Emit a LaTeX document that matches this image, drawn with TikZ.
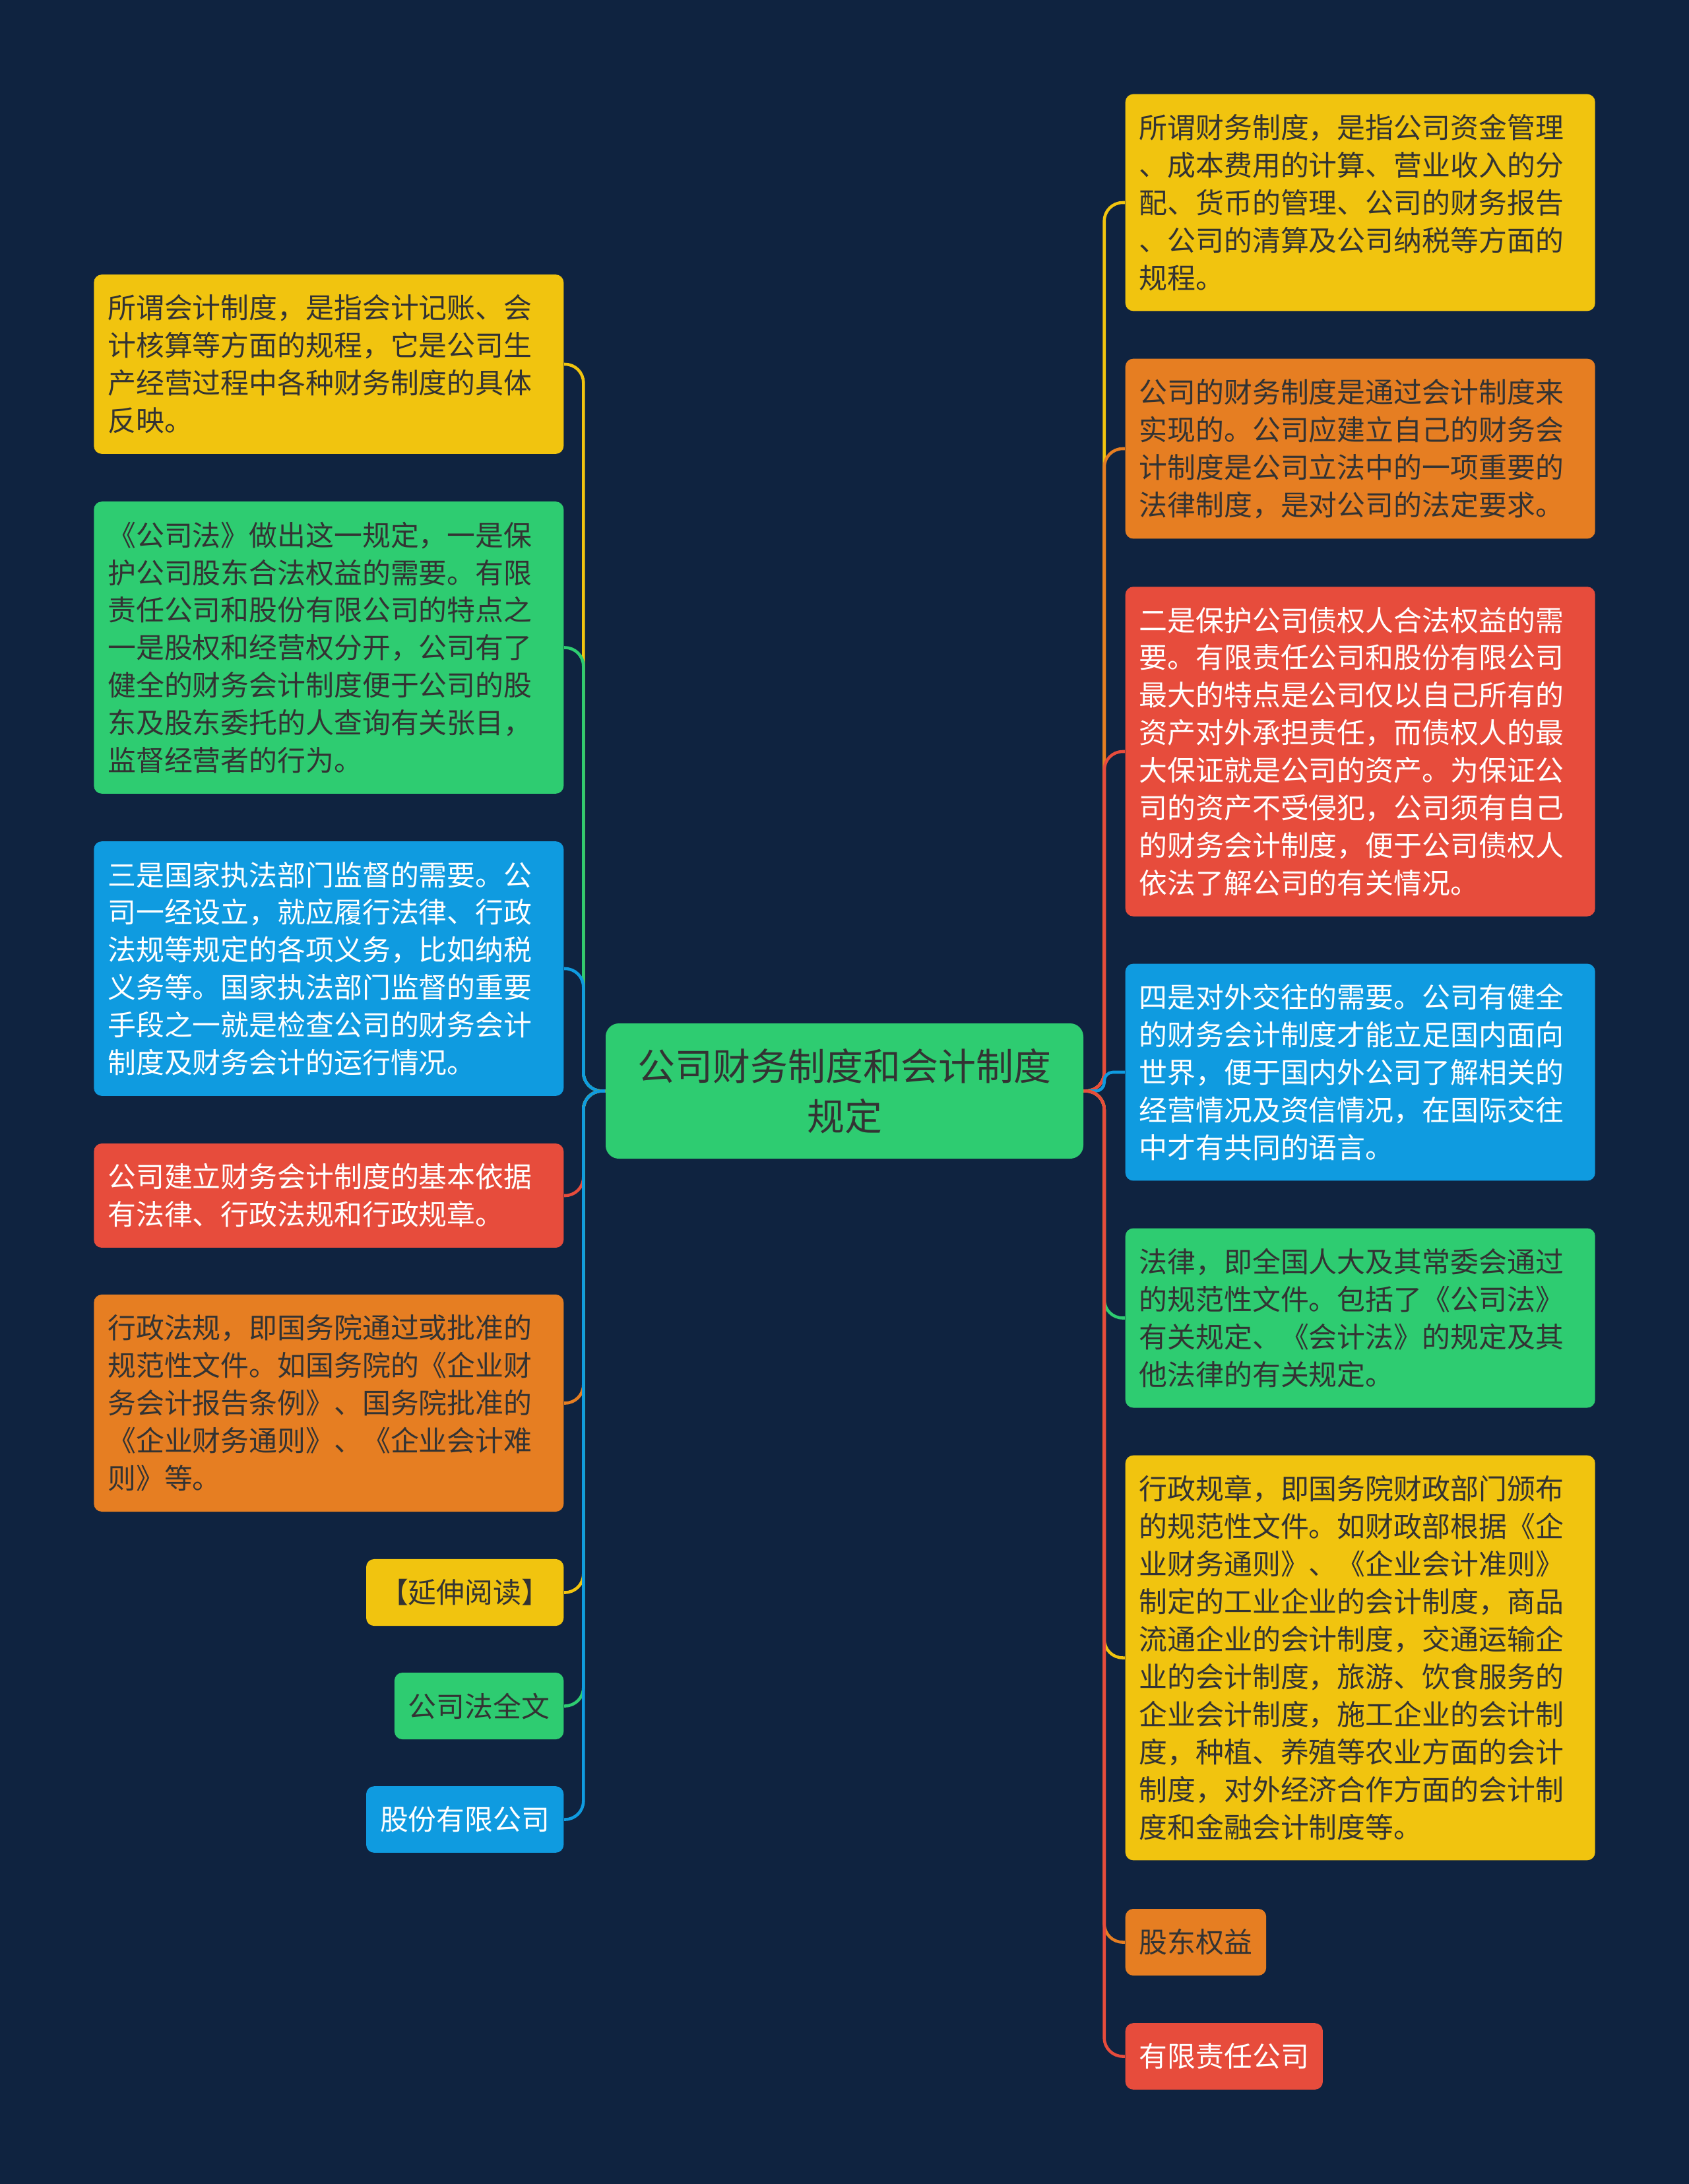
\documentclass[tikz,border=0pt]{standalone}
\usepackage{fontspec}
\newfontfamily\cjk{Noto Sans CJK SC}
\usetikzlibrary{positioning}

\begin{document}
\begin{tikzpicture}[
  topic/.style={rounded corners=2mm, align=center, text width=6.4cm,
                minimum width=7.24cm, minimum height=2.05cm, inner sep=0pt,
                font=\cjk\fontsize{16.2}{21.6}\selectfont},
  note/.style={rounded corners=1.2mm, align=left, inner xsep=0.21cm, inner ysep=8.7pt,
               font=\cjk\fontsize{12.2}{16.2}\selectfont},
  wide/.style={note, text width=6.7cm},
  link/.style={line width=1.3pt, rounded corners=2.8mm},
]
\definecolor{cbg}{HTML}{0F2340}
\definecolor{cyellow}{HTML}{F1C40F}
\definecolor{corange}{HTML}{E67E22}
\definecolor{cred}{HTML}{E74C3C}
\definecolor{cgreen}{HTML}{2ECC71}
\definecolor{cblue}{HTML}{0F9BE0}
\definecolor{cdark}{HTML}{333333}
\useasboundingbox (0,0) rectangle (25.6,-33.1);
\fill[cbg] (0,0) rectangle (25.6,-33.1);
% centre
\node[topic, fill=cgreen, text=cdark] (root) at (12.8,-16.535) {公司财务制度和会计制度\\规定};
% left side
\node[wide, fill=cyellow, text=cdark, anchor=east] (l1) at (8.55,-5.52) {所谓会计制度，是指会计记账、会\\计核算等方面的规程，它是公司生\\产经营过程中各种财务制度的具体\\反映。};
\node[wide, fill=cgreen, text=cdark, anchor=east] (l2) at (8.55,-9.815) {《公司法》做出这一规定，一是保\\护公司股东合法权益的需要。有限\\责任公司和股份有限公司的特点之\\一是股权和经营权分开，公司有了\\健全的财务会计制度便于公司的股\\东及股东委托的人查询有关张目，\\监督经营者的行为。};
\node[wide, fill=cblue, text=white, anchor=east] (l3) at (8.55,-14.68) {三是国家执法部门监督的需要。公\\司一经设立，就应履行法律、行政\\法规等规定的各项义务，比如纳税\\义务等。国家执法部门监督的重要\\手段之一就是检查公司的财务会计\\制度及财务会计的运行情况。};
\node[wide, fill=cred, text=white, anchor=east] (l4) at (8.55,-18.12) {公司建立财务会计制度的基本依据\\有法律、行政法规和行政规章。};
\node[wide, fill=corange, text=cdark, anchor=east] (l5) at (8.55,-21.265) {行政法规，即国务院通过或批准的\\规范性文件。如国务院的《企业财\\务会计报告条例》、国务院批准的\\《企业财务通则》、《企业会计难\\则》等。};
\node[note, fill=cyellow, text=cdark, anchor=east] (l6) at (8.55,-24.135) {【延伸阅读】};
\node[note, fill=cgreen, text=cdark, anchor=east] (l7) at (8.55,-25.855) {公司法全文};
\node[note, fill=cblue, text=white, anchor=east] (l8) at (8.55,-27.575) {股份有限公司};
% right side
\node[wide, fill=cyellow, text=cdark, anchor=west] (r1) at (17.05,-3.07) {所谓财务制度，是指公司资金管理\\、成本费用的计算、营业收入的分\\配、货币的管理、公司的财务报告\\、公司的清算及公司纳税等方面的\\规程。};
\node[wide, fill=corange, text=cdark, anchor=west] (r2) at (17.05,-6.8) {公司的财务制度是通过会计制度来\\实现的。公司应建立自己的财务会\\计制度是公司立法中的一项重要的\\法律制度，是对公司的法定要求。};
\node[wide, fill=cred, text=white, anchor=west] (r3) at (17.05,-11.39) {二是保护公司债权人合法权益的需\\要。有限责任公司和股份有限公司\\最大的特点是公司仅以自己所有的\\资产对外承担责任，而债权人的最\\大保证就是公司的资产。为保证公\\司的资产不受侵犯，公司须有自己\\的财务会计制度，便于公司债权人\\依法了解公司的有关情况。};
\node[wide, fill=cblue, text=white, anchor=west] (r4) at (17.05,-16.25) {四是对外交往的需要。公司有健全\\的财务会计制度才能立足国内面向\\世界，便于国内外公司了解相关的\\经营情况及资信情况，在国际交往\\中才有共同的语言。};
\node[wide, fill=cgreen, text=cdark, anchor=west] (r5) at (17.05,-19.975) {法律，即全国人大及其常委会通过\\的规范性文件。包括了《公司法》\\有关规定、《会计法》的规定及其\\他法律的有关规定。};
\node[wide, fill=cyellow, text=cdark, anchor=west] (r6) at (17.05,-25.125) {行政规章，即国务院财政部门颁布\\的规范性文件。如财政部根据《企\\业财务通则》、《企业会计准则》\\制定的工业企业的会计制度，商品\\流通企业的会计制度，交通运输企\\业的会计制度，旅游、饮食服务的\\企业会计制度，施工企业的会计制\\度，种植、养殖等农业方面的会计\\制度，对外经济合作方面的会计制\\度和金融会计制度等。};
\node[note, fill=corange, text=cdark, anchor=west] (r7) at (17.05,-29.435) {股东权益};
\node[note, fill=cred, text=white, anchor=west] (r8) at (17.05,-31.165) {有限责任公司};
% links
\draw[link, cyellow] (root.west) -- ++(-0.33,0) |- (l1.east);
\draw[link, cgreen]  (root.west) -- ++(-0.33,0) |- (l2.east);
\draw[link, cblue]   (root.west) -- ++(-0.33,0) |- (l3.east);
\draw[link, cred]    (root.west) -- ++(-0.33,0) |- (l4.east);
\draw[link, corange] (root.west) -- ++(-0.33,0) |- (l5.east);
\draw[link, cyellow] (root.west) -- ++(-0.33,0) |- (l6.east);
\draw[link, cgreen]  (root.west) -- ++(-0.33,0) |- (l7.east);
\draw[link, cblue]   (root.west) -- ++(-0.33,0) |- (l8.east);
\draw[link, cyellow] (root.east) -- ++(0.31,0) |- (r1.west);
\draw[link, corange] (root.east) -- ++(0.31,0) |- (r2.west);
\draw[link, cred]    (root.east) -- ++(0.31,0) |- (r3.west);
\draw[link, cblue, rounded corners=1.3mm] (root.east) -- ++(0.31,0) |- (r4.west);
\draw[link, cgreen]  (root.east) -- ++(0.31,0) |- (r5.west);
\draw[link, cyellow] (root.east) -- ++(0.31,0) |- (r6.west);
\draw[link, corange] (root.east) -- ++(0.31,0) |- (r7.west);
\draw[link, cred]    (root.east) -- ++(0.31,0) |- (r8.west);
\end{tikzpicture}
\end{document}
